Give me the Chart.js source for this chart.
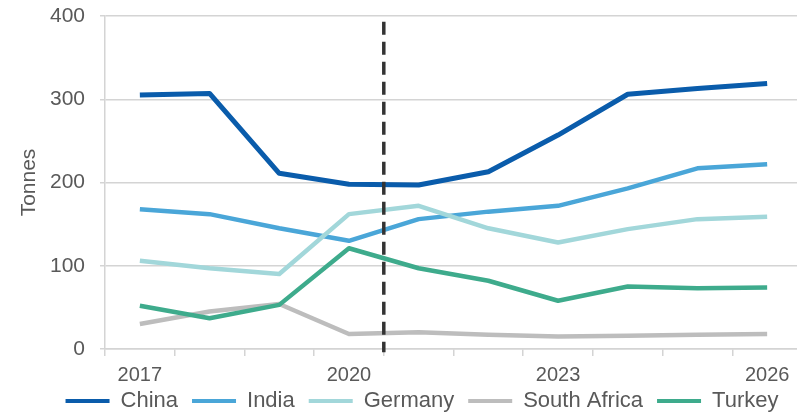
<!DOCTYPE html>
<html>
<head>
<meta charset="utf-8">
<script src="https://cdn.jsdelivr.net/npm/chart.js@4"></script>
<style>
  html, body { margin: 0; padding: 0; background: #fff; overflow: hidden; }
  #wrap { width: 802px; height: 418px; }
</style>
</head>
<body>
<div id="wrap"><canvas id="lineChart"></canvas></div>
<script>
const years = ["2017", "2018", "2019", "2020", "2021", "2022", "2023", "2024", "2025", "2026"];
const china = [305, 307, 211, 198, 197, 213, 257, 306, 313, 319];
const india = [168, 162, 145, 130, 156, 165, 172, 193, 217, 222];
const germany = [106, 97, 90, 162, 172, 145, 128, 144, 156, 159];
const southAfrica = [30, 45, 54, 18, 20, 17, 15, 16, 17, 18];
const turkey = [52, 37, 53, 121, 97, 82, 58, 75, 73, 74];
const shownYears = ["2017", "2020", "2023", "2026"];
const forecastAfter = "2020";

const textColor = "#595959";
const gridColor = "#d4d4d4";
const font = "Liberation Sans, Arial, sans-serif";

// dashed vertical marker between actuals and forecast
const dashedMarker = {
  id: "dashedMarker",
  afterDatasetsDraw(chart) {
    let x = chart.scales.x, y = chart.scales.y;
    let i = years.indexOf(forecastAfter);
    let px = (x.getPixelForValue(i) + x.getPixelForValue(i + 1)) / 2;
    let ctx = chart.ctx;
    ctx.save();
    ctx.strokeStyle = "#333333";
    ctx.lineWidth = 3.5;
    ctx.setLineDash([13, 7]);
    ctx.beginPath();
    ctx.moveTo(px, y.getPixelForValue(393));
    ctx.lineTo(px, y.getPixelForValue(-4));
    ctx.stroke();
    ctx.restore();
  }
};

// nudge the legend a bit right and down, like the original,
// and let the year labels spill below the (squeezed) x axis box
const legendNudge = {
  id: "legendNudge",
  afterLayout(chart) {
    let lg = chart.legend;
    lg.left += 21; lg.right += 21;
    lg.top += 4; lg.bottom += 4;
    chart.scales.x.bottom += 20;
  }
};

function series(label, data, color, width) {
  return {
    label,
    data,
    borderColor: color,
    backgroundColor: color,
    borderWidth: width,
    pointRadius: 0,
    tension: 0,
    borderJoinStyle: "round"
  };
}

new Chart(document.getElementById("lineChart"), {
  type: "line",
  data: {
    labels: years,
    datasets: [
      series("China", china, "#0a5cab", 5),
      series("India", india, "#4aa6d8", 4.5),
      series("Germany", germany, "#a2d7da", 4.5),
      series("South Africa", southAfrica, "#bdbdbd", 4.5),
      series("Turkey", turkey, "#3eab8c", 4.5)
    ].reverse()
  },
  options: {
    responsive: true,
    maintainAspectRatio: false,
    animation: false,
    layout: { padding: { top: 16, right: 0, bottom: 0, left: 0 } },
    plugins: {
      tooltip: { enabled: false },
      legend: {
        position: "bottom",
        reverse: true,
        labels: {
          color: textColor,
          font: { family: font, size: 22 },
          boxWidth: 44,
          boxHeight: 4,
          padding: 14,
          generateLabels(chart) {
            return chart.data.datasets.map((ds, i) => ({
              text: ds.label,
              fillStyle: ds.borderColor,
              strokeStyle: ds.borderColor,
              lineWidth: 0,
              fontColor: textColor,
              datasetIndex: i
            }));
          }
        }
      }
    },
    scales: {
      x: {
        offset: true,
        afterFit(scale) { scale.height = 23; },
        grid: {
          offset: true,
          drawOnChartArea: false,
          color: gridColor,
          lineWidth: 1.5,
          tickLength: 7
        },
        border: { color: gridColor, width: 1.5 },
        ticks: {
          autoSkip: false,
          maxRotation: 0,
          color: textColor,
          padding: 7,
          font: { family: font, size: 20 },
          callback(value) {
            let y = years[value];
            return shownYears.includes(y) ? y : "";
          }
        }
      },
      y: {
        min: 0,
        max: 400,
        afterFit(scale) {
          scale.width = 105;
          scale.paddingTop = 0;
          scale.paddingBottom = 0;
        },
        grid: { color: gridColor, lineWidth: 1.5, tickLength: 5 },
        border: { color: gridColor, width: 1.5 },
        ticks: {
          stepSize: 100,
          color: textColor,
          padding: 15,
          font: { family: font, size: 21 }
        },
        title: {
          display: true,
          text: "Tonnes",
          color: textColor,
          font: { family: font, size: 21 },
          padding: { top: 17, bottom: 0 }
        }
      }
    }
  },
  plugins: [dashedMarker, legendNudge]
});
</script>
</body>
</html>
